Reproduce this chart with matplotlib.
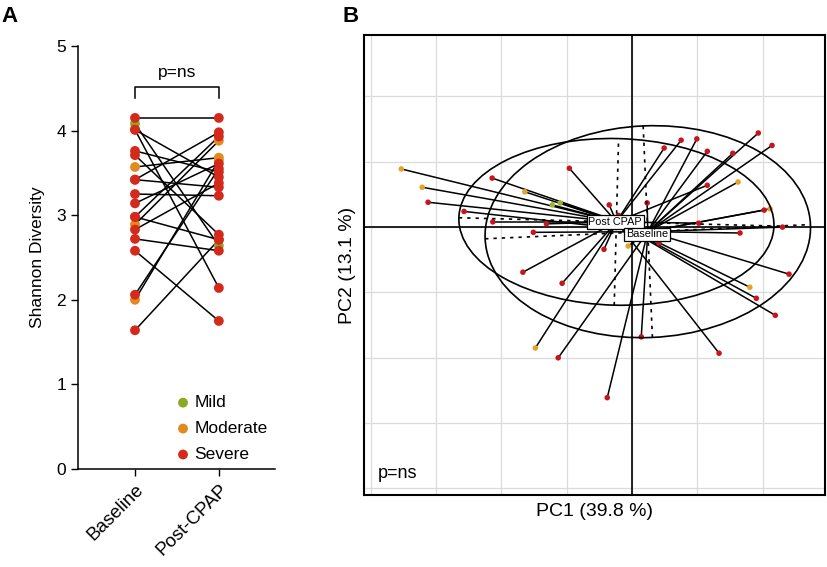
import matplotlib
matplotlib.use("Agg")
import matplotlib.pyplot as plt
from matplotlib.patches import Ellipse
import numpy as np

plt.rcParams['font.family'] = ['Liberation Sans', 'DejaVu Sans']

# ---- panel A : Shannon diversity, paired samples ----
groups = ['Baseline', 'Post-CPAP']
baseline = [4.15, 4.08, 4.01, 4.01, 3.76, 3.71, 3.57, 3.42, 3.42, 3.25,
            3.14, 2.98, 2.98, 2.89, 2.83, 2.72, 2.58, 2.06, 2.00, 1.64]
post_cpap = [4.15, 2.64, 3.45, 2.14, 3.51, 2.77, 3.68, 3.98, 3.33, 3.23,
             3.61, 3.93, 2.71, 3.88, 3.38, 2.58, 1.75, 3.55, 3.65, 2.71]
severity_a = ['Severe', 'Mild', 'Severe', 'Severe', 'Severe', 'Severe', 'Moderate',
              'Severe', 'Severe', 'Severe', 'Severe', 'Severe', 'Severe', 'Moderate',
              'Severe', 'Severe', 'Severe', 'Severe', 'Moderate', 'Severe']
sev_levels = ['Mild', 'Moderate', 'Severe']
sev_colors_a = {'Mild': '#8ca925', 'Moderate': '#e38a1e', 'Severe': '#d42a1c'}

# ---- panel B : PCA biplot ----
pc1 = [-3.53, -3.21, -3.12, -2.57, -2.13, -2.14, -1.64, -1.22, -1.10, -1.31,
       -1.51, -0.96, -0.35, -0.21, -1.67, -1.07, -0.43, -0.06, 1.93, 2.14,
       0.49, 0.75, 0.99, 1.15, 1.54, 1.15, 1.62, 0.23, 2.02, 2.11,
       2.30, 1.02, 1.65, 0.41, 2.40, 1.80, 1.90, 2.19, 0.14, -1.48,
       -1.13, -0.38, 1.33]
pc2 = [0.89, 0.61, 0.38, 0.24, 0.08, 0.75, 0.54, 0.34, 0.37, 0.05,
       -0.08, 0.90, 0.34, 0.18, -0.69, -0.86, -0.34, -0.29, 1.44, 1.25,
       1.21, 1.33, 1.35, 1.16, 1.13, 0.64, 0.69, 0.37, 0.26, 0.28,
       0.00, 0.06, -0.09, -0.24, -0.72, -0.92, -1.09, -1.35, -1.68, -1.85,
       -2.00, -2.61, -1.93]
timepoint = ['Post CPAP', 'Post CPAP', 'Post CPAP', 'Baseline', 'Post CPAP', 'Baseline',
             'Post CPAP', 'Post CPAP', 'Baseline', 'Post CPAP', 'Baseline', 'Post CPAP',
             'Post CPAP', 'Baseline', 'Post CPAP', 'Post CPAP', 'Post CPAP', 'Baseline',
             'Baseline', 'Baseline', 'Post CPAP', 'Post CPAP', 'Baseline', 'Baseline',
             'Baseline', 'Post CPAP', 'Baseline', 'Baseline', 'Baseline', 'Baseline',
             'Baseline', 'Post CPAP', 'Baseline', 'Baseline', 'Post CPAP', 'Post CPAP',
             'Post CPAP', 'Post CPAP', 'Baseline', 'Post CPAP', 'Baseline', 'Baseline',
             'Post CPAP']
severity_b = ['Moderate', 'Moderate', 'Severe', 'Severe', 'Severe', 'Severe', 'Moderate',
              'Mild', 'Mild', 'Severe', 'Severe', 'Severe', 'Severe', 'Severe', 'Severe',
              'Severe', 'Severe', 'Moderate', 'Severe', 'Severe', 'Severe', 'Severe',
              'Severe', 'Severe', 'Severe', 'Severe', 'Moderate', 'Severe', 'Severe',
              'Moderate', 'Severe', 'Severe', 'Severe', 'Severe', 'Severe', 'Moderate',
              'Severe', 'Severe', 'Severe', 'Moderate', 'Severe', 'Severe', 'Severe']
sev_colors_b = {'Mild': '#9db52a', 'Moderate': '#e4a325', 'Severe': '#c8141b'}

# group centroids and ellipses (centre x, centre y, width, height, angle)
class_names = ['Post CPAP', 'Baseline']
centre_x = [-0.24, 0.24]
centre_y = [0.08, -0.07]
ell_width = [4.82, 4.98]
ell_height = [2.55, 3.24]
ell_angle = [-1.5, 2.5]

fig = plt.figure(figsize=(8.27, 5.67), dpi=100)

# ================= A =================
ax1 = fig.add_axes([78 / 827, 98 / 567, 197 / 827, 423 / 567])
for b, p in zip(baseline, post_cpap):
    ax1.plot([0, 1], [b, p], color='black', lw=1.1, zorder=2)
for lev in sev_levels:
    ys_b = [b for b, s in zip(baseline, severity_a) if s == lev]
    ys_p = [p for p, s in zip(post_cpap, severity_a) if s == lev]
    ax1.scatter([0] * len(ys_b) + [1] * len(ys_p), ys_b + ys_p, s=50,
                color=sev_colors_a[lev], edgecolors='none', zorder=3, label=lev)

ax1.set_xlim(-0.68, 1.67)
ax1.set_ylim(0, 5)
ax1.set_yticks([0, 1, 2, 3, 4, 5])
ax1.set_xticks([0, 1])
ax1.set_xticklabels(groups, rotation=45, ha='right', rotation_mode='anchor')
ax1.tick_params(axis='y', labelsize=12.5, length=5, width=1)
ax1.tick_params(axis='x', labelsize=13.5, length=5, width=1)
ax1.set_ylabel('Shannon Diversity', fontsize=12.5, labelpad=8)
for sp in ['top', 'right']:
    ax1.spines[sp].set_visible(False)
for sp in ['left', 'bottom']:
    ax1.spines[sp].set_linewidth(1.1)

ax1.plot([0, 0, 1, 1], [4.385, 4.515, 4.515, 4.385], color='black', lw=1.1, clip_on=False)
ax1.text(0.5, 4.69, 'p=ns', ha='center', va='center', fontsize=12.5)

ax1.legend(loc='lower left', bbox_to_anchor=(0.445, 0.0), frameon=False,
           fontsize=12.5, handletextpad=0.05, labelspacing=0.62, borderaxespad=0,
           handlelength=1.2, markerscale=1.0)

# ================= B =================
ax2 = fig.add_axes([364 / 827, 72 / 567, 461 / 827, 460 / 567])
ax2.set_xlim(-4.10, 2.95)
ax2.set_ylim(-4.10, 2.94)
for g in range(-4, 3):
    ax2.axvline(g, color='#d8dcdc', lw=0.9, zorder=0)
    ax2.axhline(g, color='#d8dcdc', lw=0.9, zorder=0)
ax2.axvline(0, color='black', lw=1.2, zorder=1)
ax2.axhline(0, color='black', lw=1.2, zorder=1)

for x, y, t in zip(pc1, pc2, timepoint):
    k = class_names.index(t)
    ax2.plot([centre_x[k], x], [centre_y[k], y], color='black', lw=1.1, zorder=2)
for lev in sev_levels:
    xs = [x for x, s in zip(pc1, severity_b) if s == lev]
    ys = [y for y, s in zip(pc2, severity_b) if s == lev]
    ax2.scatter(xs, ys, s=16, color=sev_colors_b[lev], edgecolors='none', zorder=3)

for k in range(len(class_names)):
    cx, cy = centre_x[k], centre_y[k]
    w, h, a = ell_width[k], ell_height[k], np.radians(ell_angle[k])
    ax2.add_patch(Ellipse((cx, cy), w, h, angle=ell_angle[k], fill=False,
                          edgecolor='black', lw=1.2, zorder=4))
    dx, dy = np.cos(a) * w / 2, np.sin(a) * w / 2
    ax2.plot([cx - dx, cx + dx], [cy - dy, cy + dy], ls=(0, (2, 3)), color='black', lw=1.2, zorder=4)
    dx, dy = -np.sin(a) * h / 2, np.cos(a) * h / 2
    ax2.plot([cx - dx, cx + dx], [cy - dy, cy + dy], ls=(0, (2, 3)), color='black', lw=1.2, zorder=4)

ax2.text(-0.26, 0.08, 'Post CPAP', ha='center', va='center', fontsize=7.8, zorder=6,
         bbox=dict(boxstyle='square,pad=0.15', fc='white', ec='black', lw=0.9))
ax2.text(0.23, -0.11, 'Baseline', ha='center', va='center', fontsize=7.8, zorder=6,
         bbox=dict(boxstyle='square,pad=0.15', fc='white', ec='black', lw=0.9))

ax2.text(0.072, 0.046, 'p=ns', transform=ax2.transAxes, ha='center', va='center', fontsize=13)
ax2.set_xticks([])
ax2.set_yticks([])
for sp in ax2.spines.values():
    sp.set_linewidth(1.5)
ax2.set_xlabel('PC1 (39.8 %)', fontsize=14, labelpad=6)
ax2.set_ylabel('PC2 (13.1 %)', fontsize=14, labelpad=6)

fig.text(10 / 827, 1 - 16 / 567, 'A', fontsize=16, fontweight='bold', ha='center', va='center')
fig.text(351 / 827, 1 - 16 / 567, 'B', fontsize=16, fontweight='bold', ha='center', va='center')

fig.savefig('out.png', dpi=100)
